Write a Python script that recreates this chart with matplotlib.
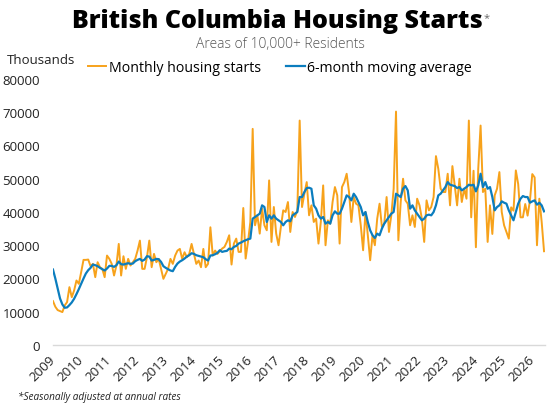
import matplotlib.pyplot as plt
import numpy as np

plt.rcParams['font.family'] = ['Open Sans', 'DejaVu Sans']

ORANGE = '#F7A21B'
BLUE = '#0B7DBE'

year_labels = [str(y) for y in range(2009, 2027)]

# monthly starts, Jan 2009 onwards (SAAR units)
monthly_starts = [
    13200, 11500, 10500, 10200, 9900, 11900, 12900, 17400, 14400, 16400,
    19400, 18400, 21900, 25600, 25600, 25700, 23700, 24400, 20400, 24900,
    23400, 22900, 20400, 26900, 25900, 24400, 20900, 23900, 30400, 20900,
    26700, 22900, 25900, 23900, 24900, 25900, 28400, 31400, 22900, 22900,
    26400, 31400, 23400, 27400, 24900, 25900, 22900, 19900, 21400, 22900,
    25900, 24400, 26900, 28400, 28900, 25900, 27900, 26400, 27400, 30400,
    27400, 24400, 25400, 23400, 28900, 23400, 24400, 35400, 26900, 28400,
    27400, 28200, 29000, 29500, 31000, 33000, 24200, 30500, 32000, 28000,
    28000, 41200, 26000, 31000, 37000, 65000, 36000, 39000, 33500, 41000,
    36000, 34500, 49500, 31000, 41500, 33500, 30000, 35500, 40500, 40000,
    43000, 34000, 40000, 38500, 40500, 67500, 41500, 45500, 49000, 39000,
    42000, 37000, 38000, 30500, 37000, 48000, 30000, 37500, 36500, 43000,
    47500, 45000, 30500, 47500, 49000, 51500, 46000, 37000, 44500, 42500,
    42000, 36000, 28500, 40000, 33000, 25500, 33000, 30000, 38000, 42500,
    35500, 36500, 44500, 34000, 39000, 47000, 70200, 31500, 43000, 50000,
    43500, 42500, 36000, 39000, 35500, 44000, 42000, 38000, 31000, 43500,
    40500, 41500, 44500, 56800, 53000, 47000, 46000, 46000, 51500, 42000,
    53800, 48000, 42000, 50000, 43000, 47000, 44000, 67500, 38400, 52400,
    29400, 53000, 66000, 46000, 47000, 31000, 42000, 33400, 45000, 47000,
    52000, 40000, 36000, 34000, 32000, 41400, 40400, 52500, 48400, 38400,
    38400, 42400, 38900, 43400, 51400, 50400, 30000, 44000, 37000, 28200,
]

moving_avg = [
    22700, 20000, 17000, 14000, 12200, 11200, 11300, 12000, 12800, 13900,
    15300, 16800, 18400, 20000, 21500, 22500, 23200, 24200, 24000, 23700,
    23200, 22800, 22400, 23000, 23800, 23800, 23500, 24000, 25100, 24300,
    24200, 24400, 24600, 24400, 24500, 25200, 25600, 25900, 25300, 25700,
    26700, 26600, 25400, 25600, 25900, 25800, 25000, 23700, 23200, 22800,
    22400, 22200, 23500, 24500, 25100, 25500, 26000, 26600, 27000, 27600,
    27400, 27000, 26800, 26600, 26400, 25800, 25400, 26900, 27000, 27300,
    27700, 28500, 28000, 28200, 28300, 29000, 28800, 29500, 29800, 30500,
    30800, 31200, 31500, 31800, 32000, 38000, 38500, 39000, 39500, 42000,
    41500, 37000, 39000, 38000, 39000, 38000, 37500, 37000, 36000, 37000,
    37500, 37200, 39000, 39500, 40000, 44500, 44500, 46000, 47200, 47300,
    47000, 42000, 41000, 39000, 38000, 38500, 36500, 37000, 36500, 39000,
    40200, 39500, 39500, 41000, 43000, 45000, 44500, 43500, 45500, 44500,
    43000, 41500, 39000, 40000, 37000, 34500, 33000, 32200, 33500, 33000,
    35000, 36500, 37500, 38500, 39500, 40000, 45500, 45000, 44500, 47000,
    47800, 46500, 41000, 42000, 40500, 39500, 38500, 37500, 38000, 39000,
    39200, 39000, 40000, 42000, 45000, 45500, 46500, 47500, 49000, 48200,
    48000, 47800, 47200, 47500, 46500, 47000, 47500, 48200, 48000, 48200,
    46200, 48000, 51500, 47500, 49000, 47000, 47500, 44500, 40500, 41500,
    42000, 43200, 42800, 42500, 40500, 39000, 37500, 40000, 42500, 44000,
    44800, 44500, 44500, 42800, 43200, 43500, 42200, 42800, 42000, 40200,
]

months = np.arange(len(monthly_starts))

fig = plt.figure(figsize=(5.6, 4.06), dpi=100)
ax = fig.add_axes([52.5 / 560, 1 - 346 / 406, 492 / 560, 266 / 406])

ax.plot(months, monthly_starts, color=ORANGE, lw=1.4, label='Monthly housing starts')
ax.plot(months, moving_avg, color=BLUE, lw=1.6, label='6-month moving average')

ax.set_xlim(-0.2, len(months) - 0.8)
ax.set_ylim(0, 80000)
ax.set_yticks(range(0, 80001, 10000))
ax.set_xticks(months[::12])
ax.set_xticklabels(year_labels, rotation=45, ha='right', va='center',
                   rotation_mode='anchor', fontsize=9.5, color='#222222')
ax.tick_params(axis='y', length=0, pad=9, labelsize=9.5, labelcolor='#222222')
ax.tick_params(axis='x', length=0, pad=9)
for side in ['top', 'right', 'left']:
    ax.spines[side].set_visible(False)
ax.spines['bottom'].set_color('#d9d9d9')
ax.spines['bottom'].set_linewidth(1.0)

# title block
fig.text(277 / 560, 1 - 22 / 406, 'British Columbia Housing Starts',
         ha='center', va='center', fontsize=18, fontweight='heavy', color='black')
fig.text(484 / 560, 1 - 19 / 406, '*', ha='left', va='center',
         fontsize=8, color='#666666')
fig.text(280 / 560, 1 - 44 / 406, 'Areas of 10,000+ Residents',
         ha='center', va='center', fontsize=10, color='#555555', fontweight='light')
fig.text(7 / 560, 1 - 61 / 406, 'Thousands', ha='left', va='center',
         fontsize=9.5, color='#222222')

fig.legend(loc='center left', bbox_to_anchor=(88 / 560, 1 - 68 / 406), ncol=2,
           frameon=False, fontsize=10.2, handlelength=1.3, handletextpad=0.15,
           columnspacing=1.8, borderaxespad=0, borderpad=0)

fig.text(18 / 560, 1 - 397 / 406, '*Seasonally adjusted at annual rates',
         ha='left', va='center', fontsize=7.2, style='italic', color='#222222')

fig.savefig('out.png', dpi=100)
